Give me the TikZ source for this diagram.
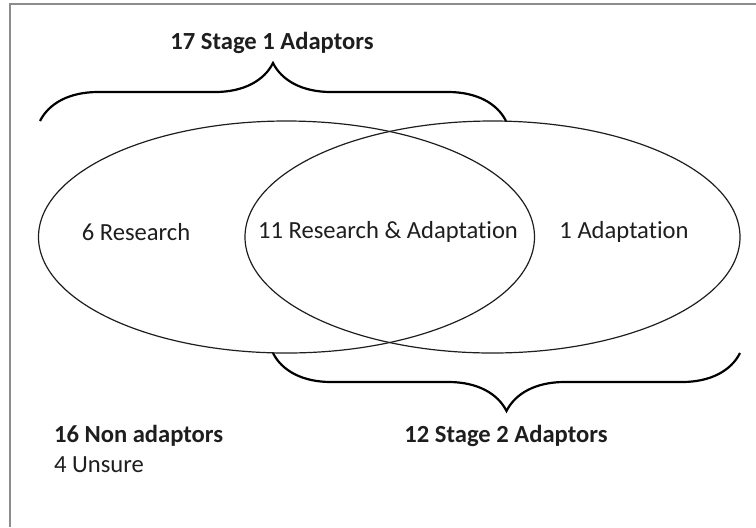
\documentclass[tikz,border=0pt]{standalone}
\usepackage{fontspec}
\setmainfont{Carlito}[Ligatures=NoCommon]
\usepackage{tikz}
\usetikzlibrary{decorations.pathreplacing, positioning}
\definecolor{framegray}{RGB}{140,140,140}
\definecolor{inkblack}{RGB}{30,30,30}

\begin{document}
\begin{tikzpicture}[x=0.5pt, y=-0.5pt, font=\fontsize{12.3}{14}\selectfont, text=inkblack,
		set/.style={draw=inkblack, line width=0.6pt},
		bracket/.style={draw=black, line width=1.1pt, decorate, decoration={brace, amplitude=29pt}},
		title/.style={font=\fontsize{12.3}{14}\selectfont\bfseries}]

			\useasboundingbox (0,0) rectangle (756,527);
			\draw [framegray, line width=1pt] (10,527) -- (10,4) -- (756,4);

			% the two sets
			\draw [set] (286.5,237) ellipse [x radius=248, y radius=116];
			\draw [set] (492.5,237) ellipse [x radius=247.5, y radius=116];

			\node (R) at (136,232) {6 Research};
			\node (RA) at (388,232) {11 Research \& Adaptation};
			\node (A) at (624,232) {1 Adaptation};

			% braces
			\coordinate (S1a) at (40,121);
			\coordinate (S1b) at (506,121);
			\coordinate (S2a) at (740,353);
			\coordinate (S2b) at (273,353);
			\draw [bracket] (S1a) -- (S1b);
			\draw [bracket] (S2a) -- (S2b);

			\node [title] (S1) at (272,43) {17 Stage 1 Adaptors};
			\node [title] (S2) at (506,436) {12 Stage 2 Adaptors};
			\node [title, anchor=west] (N) at (47,436) {16 Non adaptors};
			\node [anchor=west] (U) at (47,465) {4 Unsure};

\end{tikzpicture}
\end{document}
